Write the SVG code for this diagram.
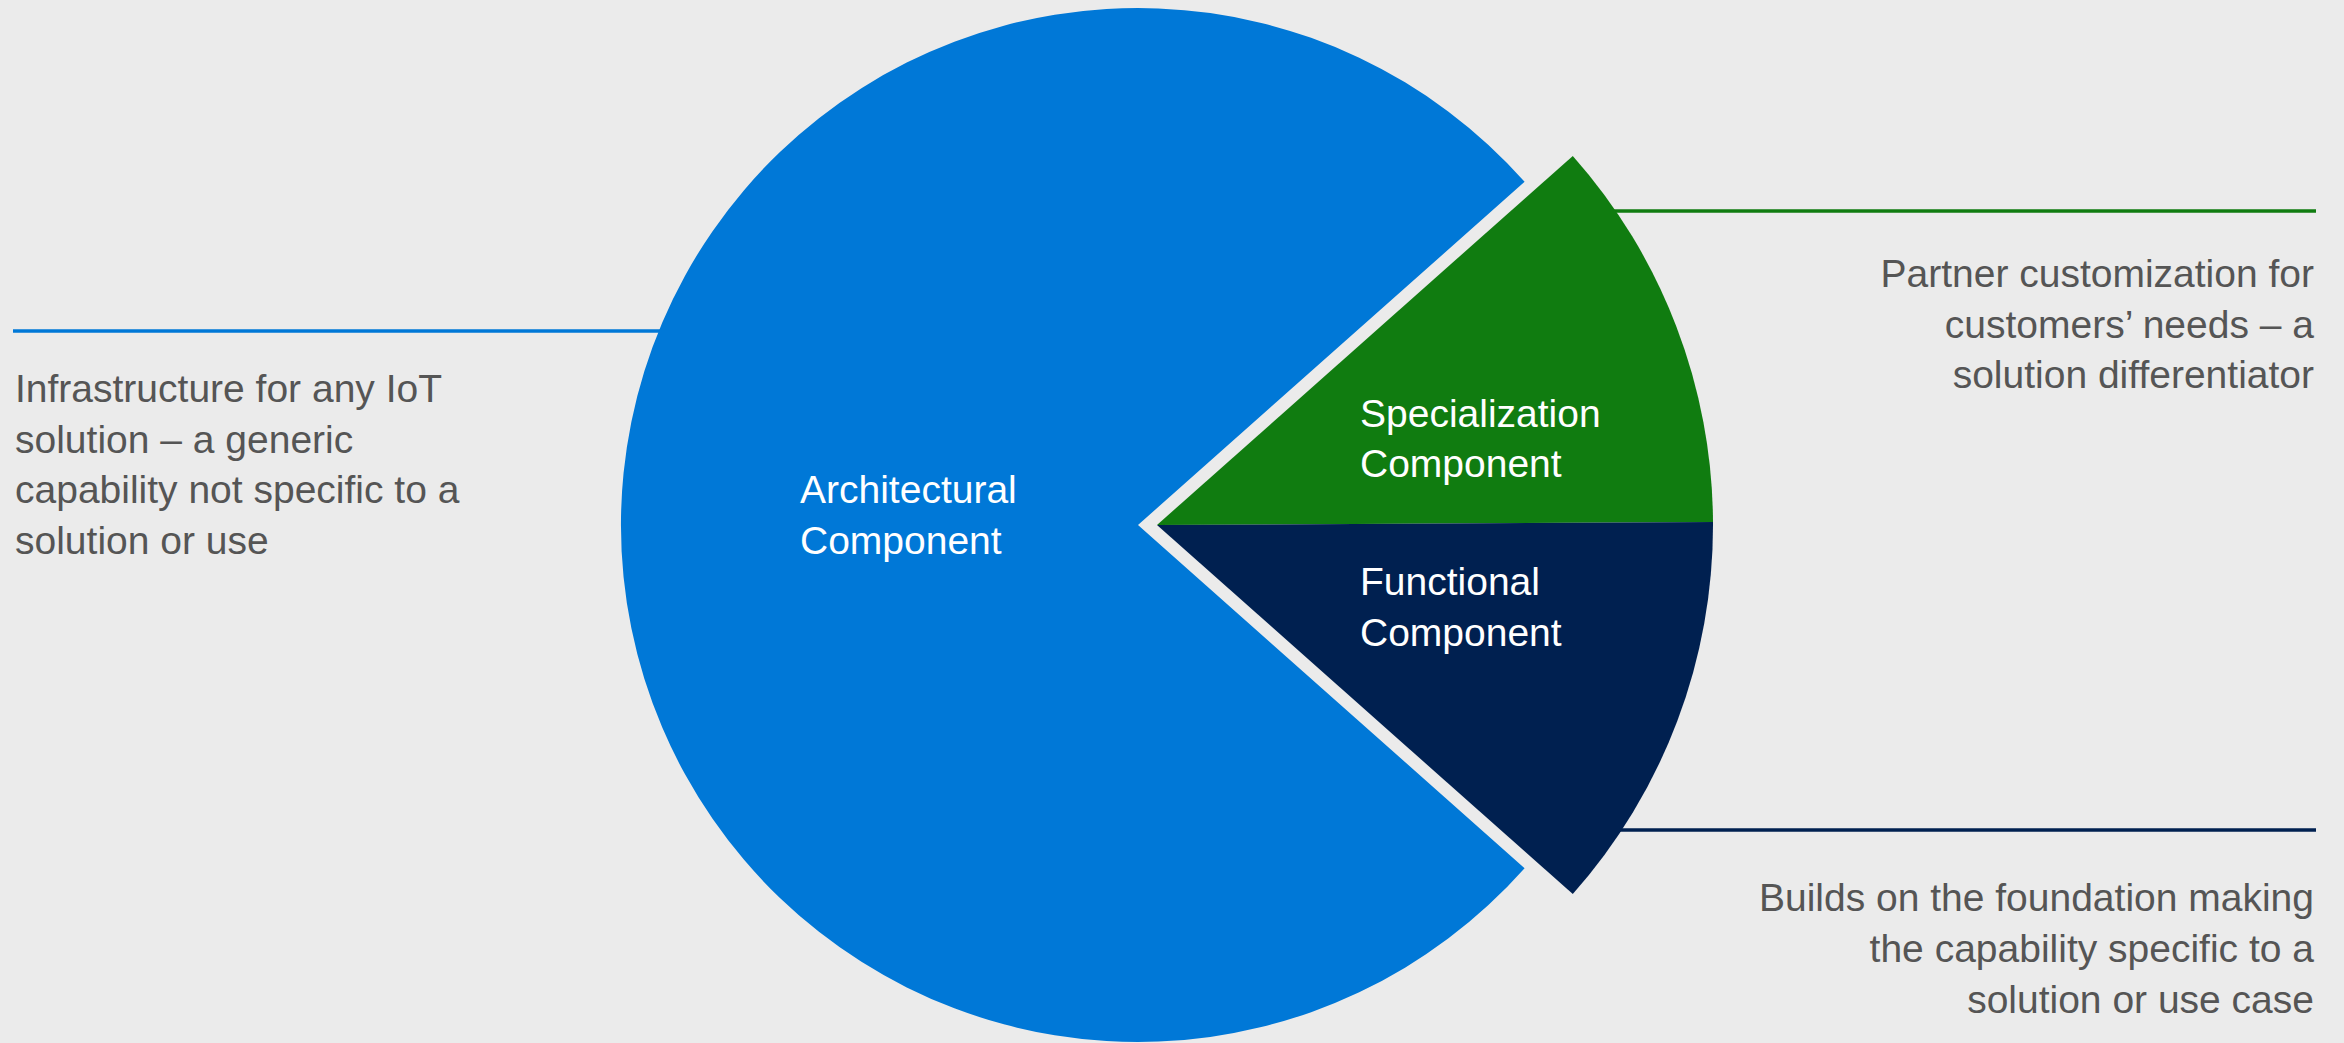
<svg xmlns="http://www.w3.org/2000/svg" width="2344" height="1043" viewBox="0 0 2344 1043">
  <style>
    .desc { font-family: "Liberation Sans", Arial, sans-serif; font-size: 39px; fill: #555555; }
    .lbl { font-family: "Liberation Sans", Arial, sans-serif; font-size: 39px; fill: #ffffff; }
    .end { text-anchor: end; }
    .conn { fill: none; stroke-width: 3.5; }
  </style>
  <rect x="0" y="0" width="2344" height="1043" fill="#ebebeb"/>
  <g id="connectors">
    <path class="conn" d="M13,331 H680" stroke="#0078d7"/>
    <path class="conn" d="M1600,211 H2316" stroke="#107c10"/>
    <path class="conn" d="M1600,830 H2316" stroke="#002050"/>
  </g>
  <g id="architectural">
    <path d="M1138,525 L1524.6,181.8 A517,517 0 1,0 1524.6,868.2 Z" fill="#0078d7"/>
    <text class="lbl" x="800" y="503">Architectural</text>
    <text class="lbl" x="800" y="554">Component</text>
  </g>
  <g id="specialization">
    <path d="M1157,525 L1572.8,155.9 A556,556 0 0,1 1713,522 Z" fill="#107c10"/>
    <text class="lbl" x="1360" y="427">Specialization</text>
    <text class="lbl" x="1360" y="477">Component</text>
  </g>
  <g id="functional">
    <path d="M1157,525 L1713,522 A556,556 0 0,1 1572.8,894.1 Z" fill="#002050"/>
    <text class="lbl" x="1360" y="595">Functional</text>
    <text class="lbl" x="1360" y="646">Component</text>
  </g>
  <g id="desc-architectural">
    <text class="desc" x="15" y="402">Infrastructure for any IoT</text>
    <text class="desc" x="15" y="453">solution – a generic</text>
    <text class="desc" x="15" y="503">capability not specific to a</text>
    <text class="desc" x="15" y="554">solution or use</text>
  </g>
  <g id="desc-specialization">
    <text class="desc end" x="2314" y="287">Partner customization for</text>
    <text class="desc end" x="2314" y="338">customers’ needs – a</text>
    <text class="desc end" x="2314" y="388">solution differentiator</text>
  </g>
  <g id="desc-functional">
    <text class="desc end" x="2314" y="911">Builds on the foundation making</text>
    <text class="desc end" x="2314" y="962">the capability specific to a</text>
    <text class="desc end" x="2314" y="1013">solution or use case</text>
  </g>
</svg>
